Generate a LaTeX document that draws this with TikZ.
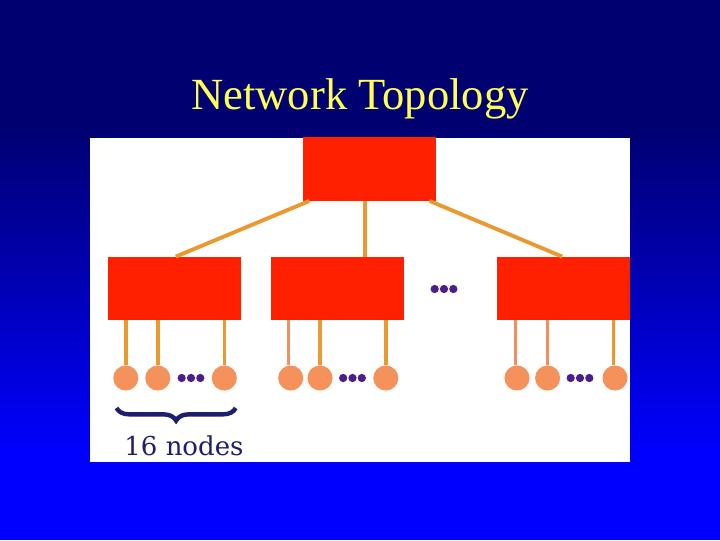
\documentclass[tikz,border=0pt]{standalone}
\usepackage{fontspec}
\setmainfont{Liberation Serif}
\newfontfamily\labelfont{DejaVu Serif}
\usetikzlibrary{decorations.pathreplacing,calc}
\definecolor{navytop}{HTML}{000070}
\definecolor{bluebot}{HTML}{0000FF}
\definecolor{titley}{HTML}{FFFF55}
\definecolor{boxred}{HTML}{FF2000}
\definecolor{linkor}{HTML}{E89A30}
\definecolor{linksa}{HTML}{F09060}
\definecolor{leafc}{HTML}{F5915A}
\definecolor{dotc}{HTML}{4B1E8C}
\definecolor{bracec}{HTML}{1E1E6E}
\tikzset{
  switchbox/.style={rectangle, fill=boxred, draw=none, minimum width=99.75pt, minimum height=47.5pt, inner sep=0pt},
  leaf/.style={circle, fill=leafc, draw=none, minimum size=18.8pt, inner sep=0pt},
  uplink/.style={draw=linkor, line width=2.9pt},
  leafline/.style={draw=linkor, line width=2.6pt},
  leaflinesa/.style={draw=linksa, line width=2.6pt},
  dotmark/.style={inner sep=0pt, minimum size=0pt},
}
\begin{document}
\begin{tikzpicture}[x=0.75pt,y=-0.75pt]
\useasboundingbox (0,0) rectangle (720,540);
% background
\fill[navytop] (0,0) rectangle (720,125);
\shade[top color=navytop, bottom color=bluebot] (0,124) rectangle (720,455);
\fill[bluebot] (0,454) rectangle (720,540);
% title
\node[anchor=base, text=titley, font=\fontsize{33.4}{38}\selectfont] (title) at (360,109) {Network Topology};
% white panel
\fill[white] (90,138) rectangle (630,462);
% switches
\node[switchbox] (t) at (369.5,169) {};
\node[switchbox] (m1) at (174.5,288.5) {};
\node[switchbox] (m2) at (337,288.5) {};
\node[switchbox] (m3) at (563.5,288.5) {};
% uplinks
\draw[uplink] ([xshift=5pt]t.south west) -- ([xshift=1pt]m1.north);
\draw[uplink] ([xshift=-3.4pt]t.south) -- ([xshift=-3.4pt]t.south |- m2.north);
\draw[uplink] ([xshift=-5pt]t.south east) -- ([xshift=-1pt]m3.north);
% leaves
\node[leaf] (a1) at (125.8,378) {};
\node[leaf] (a2) at (157.8,378) {};
\node[leaf] (a3) at (224.3,378) {};
\node[leaf] (b1) at (290.7,378) {};
\node[leaf] (b2) at (320,378) {};
\node[leaf] (b3) at (385.8,378) {};
\node[leaf] (c1) at (517,378) {};
\node[leaf] (c2) at (547.6,378) {};
\node[leaf] (c3) at (615,378) {};
% leaf lines
\draw[leafline] (a1 |- m1.south) -- (a1.north);
\draw[leafline] (a2 |- m1.south) -- (a2.north);
\draw[leafline] (a3 |- m1.south) -- (a3.north);
\draw[leaflinesa] ([xshift=-1.5pt]b1.north |- m2.south) -- ([xshift=-1.5pt]b1.north);
\draw[leafline] (b2 |- m2.south) -- (b2.north);
\draw[leafline] (b3 |- m2.south) -- (b3.north);
\draw[leaflinesa] ([xshift=-1pt]c1.north |- m3.south) -- ([xshift=-1pt]c1.north);
\draw[leaflinesa] (c2 |- m3.south) -- (c2.north);
\draw[leafline] ([xshift=-1.3pt]c3.north |- m3.south) -- ([xshift=-1.3pt]c3.north);
% ellipsis dots
\foreach \name/\x/\y in {da/191/378, db/352.5/378, dc/580/378, dm/444/289} {
  \node[dotmark] (\name) at (\x,\y) {};
  \foreach \dx in {-7,0,7}
    \fill[dotc] ([xshift=\dx pt]\name) circle (3.1pt);
}
% brace
\coordinate (bl) at (116.5,408);
\coordinate (br) at (235.7,408);
\draw[bracec, line width=3.3pt, decorate, decoration={brace, mirror, amplitude=9.5pt}] (bl) -- (br);
\node[text=bracec, font=\labelfont\fontsize{19.5}{22}\selectfont, anchor=base] (lbl) at (184,455) {16 nodes};
\end{tikzpicture}
\end{document}
